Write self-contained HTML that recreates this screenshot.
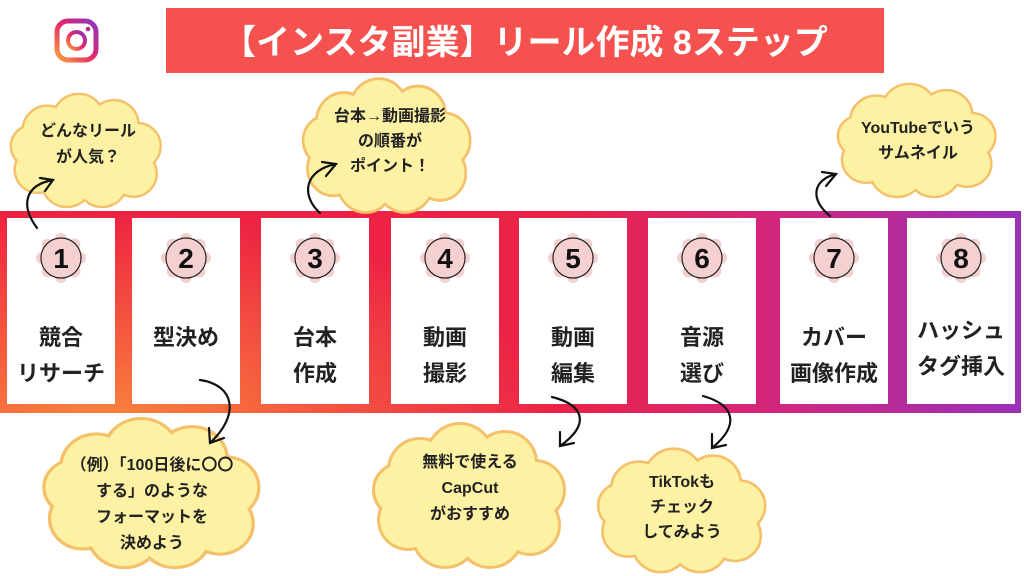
<!DOCTYPE html>
<html><head><meta charset="utf-8"><style>
html,body{margin:0;padding:0;background:#fff;}
svg{display:block;}
text{font-family:"Liberation Sans","Noto Sans CJK JP",sans-serif;font-weight:bold;}
</style></head><body>
<svg width="1024" height="576" viewBox="0 0 1024 576" xmlns="http://www.w3.org/2000/svg">
<defs>
<linearGradient id="bh" x1="0" y1="0" x2="1" y2="0">
<stop offset="0" stop-color="#ef2240"/>
<stop offset="0.55" stop-color="#ec2247"/>
<stop offset="0.75" stop-color="#d3267a"/>
<stop offset="1" stop-color="#9a30ba"/>
</linearGradient>
<radialGradient id="bo" cx="0.1" cy="1.1" r="0.45" gradientTransform="scale(1,2.5) translate(0,-0.65)">
<stop offset="0" stop-color="#fb8a3c" stop-opacity="1"/>
<stop offset="1" stop-color="#fb8a3c" stop-opacity="0"/>
</radialGradient>
<linearGradient id="ig" x1="0" y1="1" x2="1" y2="0">
<stop offset="0" stop-color="#f9a03a"/>
<stop offset="0.5" stop-color="#e4256a"/>
<stop offset="1" stop-color="#8c37c0"/>
</linearGradient>
<g id="cloudS">
<circle cx="50" cy="45" r="30"/><circle cx="90" cy="32" r="32"/><circle cx="135" cy="38" r="30"/>
<circle cx="165" cy="65" r="28"/><circle cx="160" cy="100" r="28"/><circle cx="120" cy="110" r="31"/>
<circle cx="75" cy="110" r="31"/><circle cx="38" cy="95" r="28"/><circle cx="30" cy="65" r="25"/>
<ellipse cx="100" cy="72" rx="75" ry="55"/>
</g>
<g id="cloud">
<use href="#cloudS" fill="#f4c06a" stroke="#f4c06a" stroke-width="6"/>
<use href="#cloudS" fill="#fdf1a4"/>
</g>
<g id="flower" fill="#f5d0d0">
<circle r="20"/>
<circle cx="0" cy="-19" r="6"/><circle cx="13.4" cy="-13.4" r="6"/><circle cx="19" cy="0" r="6"/><circle cx="13.4" cy="13.4" r="6"/>
<circle cx="0" cy="19" r="6"/><circle cx="-13.4" cy="13.4" r="6"/><circle cx="-19" cy="0" r="6"/><circle cx="-13.4" cy="-13.4" r="6"/>
</g>
</defs>

<!-- Instagram icon -->
<rect x="57" y="21" width="39" height="39" rx="11" fill="none" stroke="url(#ig)" stroke-width="5"/>
<circle cx="76.5" cy="40.5" r="8.5" fill="none" stroke="url(#ig)" stroke-width="4"/>
<circle cx="88" cy="29" r="2.3" fill="#b03090"/>

<!-- title -->
<rect x="166" y="8" width="718" height="65" fill="#f5524f"/>
<text x="525" y="54" font-size="34" fill="#fff" text-anchor="middle">【インスタ副業】リール作成 8ステップ</text>

<!-- band -->
<rect x="0" y="211" width="1021" height="202" fill="url(#bh)"/>
<rect x="0" y="211" width="1021" height="202" fill="url(#bo)"/>

<g fill="#fff">
<rect x="7" y="218" width="108" height="186"/>
<rect x="132" y="218" width="108" height="186"/>
<rect x="261" y="218" width="108" height="186"/>
<rect x="391" y="218" width="108" height="186"/>
<rect x="519" y="218" width="108" height="186"/>
<rect x="648" y="218" width="108" height="186"/>
<rect x="780" y="218" width="108" height="186"/>
<rect x="907" y="218" width="108" height="186"/>
</g>

<!-- numbers -->
<g font-size="28" text-anchor="middle" fill="#111">
<g transform="translate(61,258)"><use href="#flower"/><circle r="20" fill="none" stroke="#222" stroke-width="1.2"/><text y="10">1</text></g>
<g transform="translate(186,258)"><use href="#flower"/><circle r="20" fill="none" stroke="#222" stroke-width="1.2"/><text y="10">2</text></g>
<g transform="translate(315,258)"><use href="#flower"/><circle r="20" fill="none" stroke="#222" stroke-width="1.2"/><text y="10">3</text></g>
<g transform="translate(445,258)"><use href="#flower"/><circle r="20" fill="none" stroke="#222" stroke-width="1.2"/><text y="10">4</text></g>
<g transform="translate(573,258)"><use href="#flower"/><circle r="20" fill="none" stroke="#222" stroke-width="1.2"/><text y="10">5</text></g>
<g transform="translate(702,258)"><use href="#flower"/><circle r="20" fill="none" stroke="#222" stroke-width="1.2"/><text y="10">6</text></g>
<g transform="translate(834,258)"><use href="#flower"/><circle r="20" fill="none" stroke="#222" stroke-width="1.2"/><text y="10">7</text></g>
<g transform="translate(961,258)"><use href="#flower"/><circle r="20" fill="none" stroke="#222" stroke-width="1.2"/><text y="10">8</text></g>
</g>

<!-- labels -->
<g font-size="22" text-anchor="middle" fill="#222">
<text x="61" y="345">競合</text><text x="61" y="381">リサーチ</text>
<text x="186" y="345">型決め</text>
<text x="315" y="345">台本</text><text x="315" y="381">作成</text>
<text x="445" y="345">動画</text><text x="445" y="381">撮影</text>
<text x="573" y="345">動画</text><text x="573" y="381">編集</text>
<text x="702" y="345">音源</text><text x="702" y="381">選び</text>
<text x="834" y="345">カバー</text><text x="834" y="381">画像作成</text>
<text x="961" y="338">ハッシュ</text><text x="961" y="374">タグ挿入</text>
</g>

<!-- clouds -->
<use href="#cloud" transform="translate(8,95) scale(0.785,0.786)"/>
<use href="#cloud" transform="translate(300,80) scale(0.875,0.93)"/>
<use href="#cloud" transform="translate(835,85) scale(0.825,0.786)"/>
<use href="#cloud" transform="translate(40,420) scale(1.125,1.036)"/>
<use href="#cloud" transform="translate(370,425) scale(1,1)"/>
<use href="#cloud" transform="translate(595,450) scale(0.875,0.857)"/>

<g font-size="16" text-anchor="middle" fill="#222">
<text x="88" y="136">どんなリール</text><text x="88" y="162">が人気？</text>
<text x="390" y="121">台本→動画撮影</text><text x="390" y="146">の順番が</text><text x="390" y="171">ポイント！</text>
<text x="918" y="133">YouTubeでいう</text><text x="918" y="158">サムネイル</text>
<text x="152" y="470">（例）「100日後に〇〇</text><text x="152" y="496">する」のような</text><text x="152" y="522">フォーマットを</text><text x="152" y="548">決めよう</text>
<text x="470" y="467">無料で使える</text><text x="470" y="493">CapCut</text><text x="470" y="519">がおすすめ</text>
<text x="682" y="487">TikTokも</text><text x="682" y="512">チェック</text><text x="682" y="537">してみよう</text>
</g>

<!-- arrows -->
<g fill="none" stroke="#111" stroke-width="2.2" stroke-linecap="round">
<path d="M37,228 C20,205 25,185 53,180"/><path d="M40,178 L53,180 L45,191"/>
<path d="M320,213 C300,195 305,170 336,164"/><path d="M322,162 L336,164 L326,176"/>
<path d="M830,216 C810,200 812,180 836,174"/><path d="M822,172 L836,174 L826,186"/>
<path d="M200,380 C235,385 240,415 210,443"/><path d="M209,428 L210,443 L224,438"/>
<path d="M552,397 C585,405 590,425 560,446"/><path d="M560,432 L560,446 L574,443"/>
<path d="M703,396 C735,405 740,425 712,448"/><path d="M712,434 L712,448 L726,445"/>
</g>
</svg>
</body></html>
